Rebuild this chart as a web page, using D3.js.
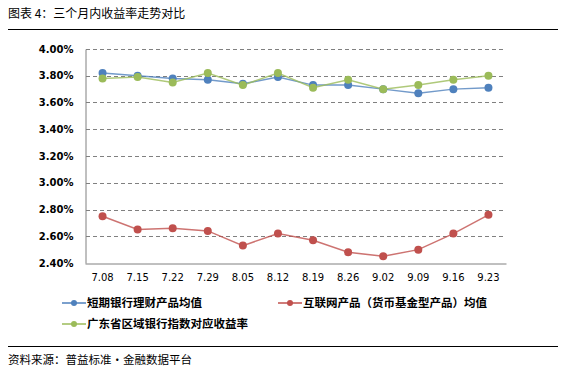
<!DOCTYPE html>
<html><head><meta charset="utf-8">
<script src="https://cdn.jsdelivr.net/npm/d3@7"></script>
<style>body{margin:0;background:#fff;}svg{display:block;}</style>
</head><body>
<svg id="c" width="561" height="379"></svg>
<script>
const categories = ["7.08","7.15","7.22","7.29","8.05","8.12","8.19","8.26","9.02","9.09","9.16","9.23"];
const bankProducts = [3.82,3.80,3.78,3.77,3.74,3.79,3.73,3.73,3.70,3.67,3.70,3.71];
const internetProducts = [2.75,2.65,2.66,2.64,2.53,2.62,2.57,2.48,2.45,2.50,2.62,2.76];
const guangdongIndex = [3.78,3.79,3.75,3.82,3.73,3.82,3.71,3.77,3.70,3.73,3.77,3.80];
const yTicks = [2.4,2.6,2.8,3.0,3.2,3.4,3.6,3.8,4.0];
const seriesNames = ["短期银行理财产品均值","互联网产品（货币基金型产品）均值","广东省区域银行指数对应收益率"];
const colors = ["#4F81BD","#C0504D","#9BBB59"];
const series = [bankProducts, internetProducts, guangdongIndex];

const svg = d3.select("#c");
const cjk = "'Noto Sans CJK SC', sans-serif";
// Title
svg.append("text").attr("x",8).attr("y",18).attr("font-family",cjk).attr("font-size",12).attr("fill","#000")
  .text("图表 4：三个月内收益率走势对比");
svg.append("line").attr("x1",8).attr("x2",558).attr("y1",29.5).attr("y2",29.5).attr("stroke","#000").attr("stroke-width",1);
svg.append("line").attr("x1",8).attr("x2",558).attr("y1",346.5).attr("y2",346.5).attr("stroke","#000").attr("stroke-width",1);
svg.append("text").attr("x",8).attr("y",364).attr("font-family",cjk).attr("font-size",11.5).attr("fill","#000")
  .text("资料来源：普益标准・金融数据平台");

const x = d3.scaleBand().domain(categories).range([85,506]);
const y = d3.scaleLinear().domain([2.4,4.0]).range([263,49]);

// gridlines
svg.append("g").selectAll("line").data(yTicks.filter(d=>d>2.4)).join("line")
  .attr("x1",86).attr("x2",506).attr("y1",d=>Math.round(y(d))+0.5).attr("y2",d=>Math.round(y(d))+0.5)
  .attr("stroke","#808080").attr("stroke-dasharray","4,3").attr("stroke-width",1);

// axes
const yAxis = d3.axisLeft(y).tickValues(yTicks).tickFormat(d=>d.toFixed(2)+"%").tickSize(0).tickPadding(12);
const gy = svg.append("g").attr("transform","translate(85.5,0)").call(yAxis);
gy.select(".domain").attr("stroke","#808080");
gy.selectAll("text").attr("font-family","Verdana, 'DejaVu Sans', sans-serif").attr("font-size",10).attr("font-weight","bold").attr("fill","#000");

const xAxis = d3.axisBottom(x).tickSize(0).tickPadding(10);
const gx = svg.append("g").attr("transform","translate(0,263.5)").call(xAxis);
gx.select(".domain").attr("stroke","#808080");
gx.selectAll("text").attr("font-family","Verdana, 'DejaVu Sans', sans-serif").attr("font-size",10).attr("fill","#000");

const cx = d=>x(d)+x.bandwidth()/2;
const line = d3.line().x((d,i)=>cx(categories[i])).y(d=>y(d));
series.forEach((s,k)=>{
  svg.append("path").datum(s).attr("d",line).attr("fill","none").attr("stroke",colors[k]).attr("stroke-width",1.5).attr("stroke-opacity",0.8);
});
series.forEach((s,k)=>{
  svg.append("g").selectAll("circle").data(s).join("circle")
    .attr("cx",(d,i)=>cx(categories[i])).attr("cy",d=>y(d)).attr("r",4).attr("fill",colors[k]);
});

// legend
const legendPos = [[62,303],[278,303],[62,324]];
seriesNames.forEach((n,k)=>{
  const [lx,ly]=legendPos[k];
  const g = svg.append("g");
  g.append("line").attr("x1",lx).attr("x2",lx+24).attr("y1",ly).attr("y2",ly).attr("stroke",colors[k]).attr("stroke-width",1.5);
  g.append("circle").attr("cx",lx+12).attr("cy",ly).attr("r",3).attr("fill",colors[k]);
  g.append("text").attr("x",lx+25).attr("y",ly+4).attr("font-family",cjk).attr("font-size",11.5).attr("font-weight","bold").attr("fill","#000").text(n);
});
</script>
</body></html>
